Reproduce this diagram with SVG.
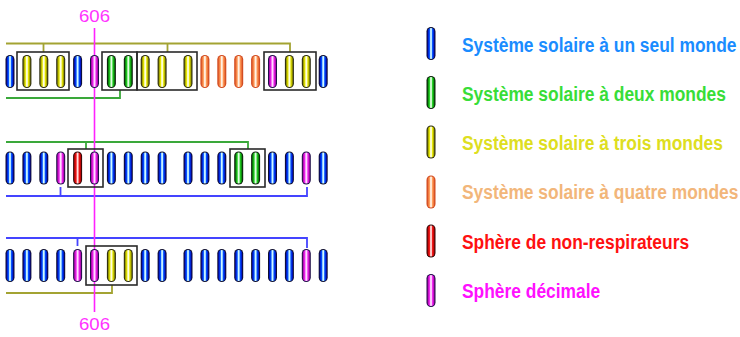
<svg xmlns="http://www.w3.org/2000/svg" xmlns:xlink="http://www.w3.org/1999/xlink" width="740" height="337" viewBox="0 0 740 337">
<style>
.box{fill:none;stroke:#2a2a2a;stroke-width:1.6}
.ln{fill:none;stroke-width:1.8}
.olive{stroke:#a3a332}
.green{stroke:#3aa83a}
.blue{stroke:#4444ff}
.mag{stroke:#ff22ff;stroke-width:1.6;fill:none}
.num{font-family:"Liberation Sans",Arial,sans-serif;font-size:17px;fill:#ff33ff}
.leg{font-family:"Liberation Sans",Arial,sans-serif;font-size:20px;font-weight:bold}
</style>
<defs>
<linearGradient id="gb" x1="0" x2="1" y1="0" y2="0"><stop offset="0" stop-color="#0000b0"/><stop offset="0.28" stop-color="#0050ff"/><stop offset="0.45" stop-color="#d0faff"/><stop offset="0.55" stop-color="#d0faff"/><stop offset="0.72" stop-color="#0050ff"/><stop offset="1" stop-color="#0000b0"/></linearGradient>
<linearGradient id="gg" x1="0" x2="1" y1="0" y2="0"><stop offset="0" stop-color="#006600"/><stop offset="0.28" stop-color="#22d022"/><stop offset="0.45" stop-color="#e0ffe0"/><stop offset="0.55" stop-color="#e0ffe0"/><stop offset="0.72" stop-color="#22d022"/><stop offset="1" stop-color="#006600"/></linearGradient>
<linearGradient id="gy" x1="0" x2="1" y1="0" y2="0"><stop offset="0" stop-color="#777700"/><stop offset="0.28" stop-color="#e6e600"/><stop offset="0.45" stop-color="#ffffe0"/><stop offset="0.55" stop-color="#ffffe0"/><stop offset="0.72" stop-color="#e6e600"/><stop offset="1" stop-color="#777700"/></linearGradient>
<linearGradient id="go" x1="0" x2="1" y1="0" y2="0"><stop offset="0" stop-color="#e05a28"/><stop offset="0.28" stop-color="#ff9a58"/><stop offset="0.45" stop-color="#fff2e4"/><stop offset="0.55" stop-color="#fff2e4"/><stop offset="0.72" stop-color="#ff9a58"/><stop offset="1" stop-color="#e05a28"/></linearGradient>
<linearGradient id="gr" x1="0" x2="1" y1="0" y2="0"><stop offset="0" stop-color="#aa0000"/><stop offset="0.28" stop-color="#f01414"/><stop offset="0.45" stop-color="#ffdddd"/><stop offset="0.55" stop-color="#ffdddd"/><stop offset="0.72" stop-color="#f01414"/><stop offset="1" stop-color="#aa0000"/></linearGradient>
<linearGradient id="gm" x1="0" x2="1" y1="0" y2="0"><stop offset="0" stop-color="#990099"/><stop offset="0.28" stop-color="#f024f0"/><stop offset="0.45" stop-color="#ffddff"/><stop offset="0.55" stop-color="#ffddff"/><stop offset="0.72" stop-color="#f024f0"/><stop offset="1" stop-color="#990099"/></linearGradient>
<g id="cb"><rect x="-4.5" y="-16.5" width="9" height="33" rx="4.5" fill="#101030"/><rect x="-3.5" y="-15.5" width="7" height="31" rx="3.5" fill="url(#gb)"/></g>
<g id="cg"><rect x="-4.5" y="-16.5" width="9" height="33" rx="4.5" fill="#102010"/><rect x="-3.5" y="-15.5" width="7" height="31" rx="3.5" fill="url(#gg)"/></g>
<g id="cy"><rect x="-4.5" y="-16.5" width="9" height="33" rx="4.5" fill="#2a2a10"/><rect x="-3.5" y="-15.5" width="7" height="31" rx="3.5" fill="url(#gy)"/></g>
<g id="co"><rect x="-4.5" y="-16.5" width="9" height="33" rx="4.5" fill="#d04a20"/><rect x="-3.5" y="-15.5" width="7" height="31" rx="3.5" fill="url(#go)"/></g>
<g id="cr"><rect x="-4.5" y="-16.5" width="9" height="33" rx="4.5" fill="#300a0a"/><rect x="-3.5" y="-15.5" width="7" height="31" rx="3.5" fill="url(#gr)"/></g>
<g id="cm"><rect x="-4.5" y="-16.5" width="9" height="33" rx="4.5" fill="#20104a"/><rect x="-3.5" y="-15.5" width="7" height="31" rx="3.5" fill="url(#gm)"/></g>
</defs>
<rect width="740" height="337" fill="#ffffff"/>

<g id="connectors">
<polyline class="ln olive" points="6,43.5 290,43.5 290,52"/>
<line class="ln olive" x1="43.5" y1="43.5" x2="43.5" y2="52"/>
<line class="ln olive" x1="167.5" y1="43.5" x2="167.5" y2="52"/>
<polyline class="ln green" points="6,98 120,98 120,90"/>
<polyline class="ln green" points="6,142 248,142 248,149"/>
<line class="ln green" x1="86" y1="142" x2="86" y2="149"/>
<polyline class="ln blue" points="6,196 307,196 307,187"/>
<line class="ln blue" x1="60.5" y1="196" x2="60.5" y2="187"/>
<polyline class="ln blue" points="6,238 307,238 307,248"/>
<line class="ln blue" x1="77.5" y1="238" x2="77.5" y2="246"/>
<polyline class="ln olive" points="6,293 112,293 112,285"/>
<line class="mag" x1="94.5" y1="28" x2="94.5" y2="312"/>
</g>

<g id="boxes">
<rect class="box" x="17" y="52" width="52" height="38"/>
<rect class="box" x="102" y="52" width="35" height="38"/>
<rect class="box" x="137" y="52" width="60" height="38"/>
<rect class="box" x="264" y="52" width="52" height="38"/>
<rect class="box" x="68" y="149" width="35" height="38"/>
<rect class="box" x="230" y="149" width="35" height="38"/>
<rect class="box" x="86" y="246" width="51" height="39"/>
</g>

<g id="row1">
<g id="r1c01"><use href="#cb" x="10" y="71.5"/></g>
<g id="r1c02"><use href="#cy" x="26.9" y="71.5"/></g>
<g id="r1c03"><use href="#cy" x="43.8" y="71.5"/></g>
<g id="r1c04"><use href="#cy" x="60.7" y="71.5"/></g>
<g id="r1c05"><use href="#cb" x="77.6" y="71.5"/></g>
<g id="r1c06"><use href="#cm" x="94.5" y="71.5"/></g>
<g id="r1c07"><use href="#cg" x="111.4" y="71.5"/></g>
<g id="r1c08"><use href="#cg" x="128.3" y="71.5"/></g>
<g id="r1c09"><use href="#cy" x="145.2" y="71.5"/></g>
<g id="r1c10"><use href="#cy" x="162.1" y="71.5"/></g>
<g id="r1c11"><use href="#cy" x="188" y="71.5"/></g>
<g id="r1c12"><use href="#co" x="204.9" y="71.5"/></g>
<g id="r1c13"><use href="#co" x="221.8" y="71.5"/></g>
<g id="r1c14"><use href="#co" x="238.7" y="71.5"/></g>
<g id="r1c15"><use href="#co" x="255.6" y="71.5"/></g>
<g id="r1c16"><use href="#cm" x="272.5" y="71.5"/></g>
<g id="r1c17"><use href="#cy" x="289.4" y="71.5"/></g>
<g id="r1c18"><use href="#cy" x="306.3" y="71.5"/></g>
<g id="r1c19"><use href="#cb" x="323.2" y="71.5"/></g>
</g>

<g id="row2">
<g id="r2c01"><use href="#cb" x="10" y="168"/></g>
<g id="r2c02"><use href="#cb" x="26.9" y="168"/></g>
<g id="r2c03"><use href="#cb" x="43.8" y="168"/></g>
<g id="r2c04"><use href="#cm" x="60.7" y="168"/></g>
<g id="r2c05"><use href="#cr" x="77.6" y="168"/></g>
<g id="r2c06"><use href="#cm" x="94.5" y="168"/></g>
<g id="r2c07"><use href="#cb" x="111.4" y="168"/></g>
<g id="r2c08"><use href="#cb" x="128.3" y="168"/></g>
<g id="r2c09"><use href="#cb" x="145.2" y="168"/></g>
<g id="r2c10"><use href="#cb" x="162.1" y="168"/></g>
<g id="r2c11"><use href="#cb" x="188" y="168"/></g>
<g id="r2c12"><use href="#cb" x="204.9" y="168"/></g>
<g id="r2c13"><use href="#cb" x="221.8" y="168"/></g>
<g id="r2c14"><use href="#cg" x="238.7" y="168"/></g>
<g id="r2c15"><use href="#cg" x="255.6" y="168"/></g>
<g id="r2c16"><use href="#cb" x="272.5" y="168"/></g>
<g id="r2c17"><use href="#cb" x="289.4" y="168"/></g>
<g id="r2c18"><use href="#cm" x="306.3" y="168"/></g>
<g id="r2c19"><use href="#cb" x="323.2" y="168"/></g>
</g>

<g id="row3">
<g id="r3c01"><use href="#cb" x="10" y="265.5"/></g>
<g id="r3c02"><use href="#cb" x="26.9" y="265.5"/></g>
<g id="r3c03"><use href="#cb" x="43.8" y="265.5"/></g>
<g id="r3c04"><use href="#cb" x="60.7" y="265.5"/></g>
<g id="r3c05"><use href="#cm" x="77.6" y="265.5"/></g>
<g id="r3c06"><use href="#cm" x="94.5" y="265.5"/></g>
<g id="r3c07"><use href="#cy" x="111.4" y="265.5"/></g>
<g id="r3c08"><use href="#cy" x="128.3" y="265.5"/></g>
<g id="r3c09"><use href="#cb" x="145.2" y="265.5"/></g>
<g id="r3c10"><use href="#cb" x="162.1" y="265.5"/></g>
<g id="r3c11"><use href="#cb" x="188" y="265.5"/></g>
<g id="r3c12"><use href="#cb" x="204.9" y="265.5"/></g>
<g id="r3c13"><use href="#cb" x="221.8" y="265.5"/></g>
<g id="r3c14"><use href="#cb" x="238.7" y="265.5"/></g>
<g id="r3c15"><use href="#cb" x="255.6" y="265.5"/></g>
<g id="r3c16"><use href="#cb" x="272.5" y="265.5"/></g>
<g id="r3c17"><use href="#cb" x="289.4" y="265.5"/></g>
<g id="r3c18"><use href="#cm" x="306.3" y="265.5"/></g>
<g id="r3c19"><use href="#cb" x="323.2" y="265.5"/></g>
</g>

<g id="label-606-top"><text class="num" x="94.5" y="22" text-anchor="middle" textLength="31" lengthAdjust="spacingAndGlyphs">606</text></g>
<g id="label-606-bottom"><text class="num" x="94.5" y="330" text-anchor="middle" textLength="31" lengthAdjust="spacingAndGlyphs">606</text></g>

<g id="legend">
<g id="leg1"><use href="#cb" x="431" y="43.5"/><text class="leg" fill="#1a8cff" transform="translate(462 51.5) scale(0.87 1)">Système solaire à un seul monde</text></g>
<g id="leg2"><use href="#cg" x="431" y="92.5"/><text class="leg" fill="#38dd38" transform="translate(462 100.5) scale(0.87 1)">Système solaire à deux mondes</text></g>
<g id="leg3"><use href="#cy" x="431" y="142"/><text class="leg" fill="#dede20" transform="translate(462 149.5) scale(0.87 1)">Système solaire à trois mondes</text></g>
<g id="leg4"><use href="#co" x="431" y="192"/><text class="leg" fill="#f2b67a" transform="translate(462 198.5) scale(0.87 1)">Système solaire à quatre mondes</text></g>
<g id="leg5"><use href="#cr" x="431" y="241"/><text class="leg" fill="#ff1010" transform="translate(462 249) scale(0.87 1)">Sphère de non-respirateurs</text></g>
<g id="leg6"><use href="#cm" x="431" y="290.5"/><text class="leg" fill="#ff10ff" transform="translate(462 297.5) scale(0.87 1)">Sphère décimale</text></g>
</g>
</svg>
